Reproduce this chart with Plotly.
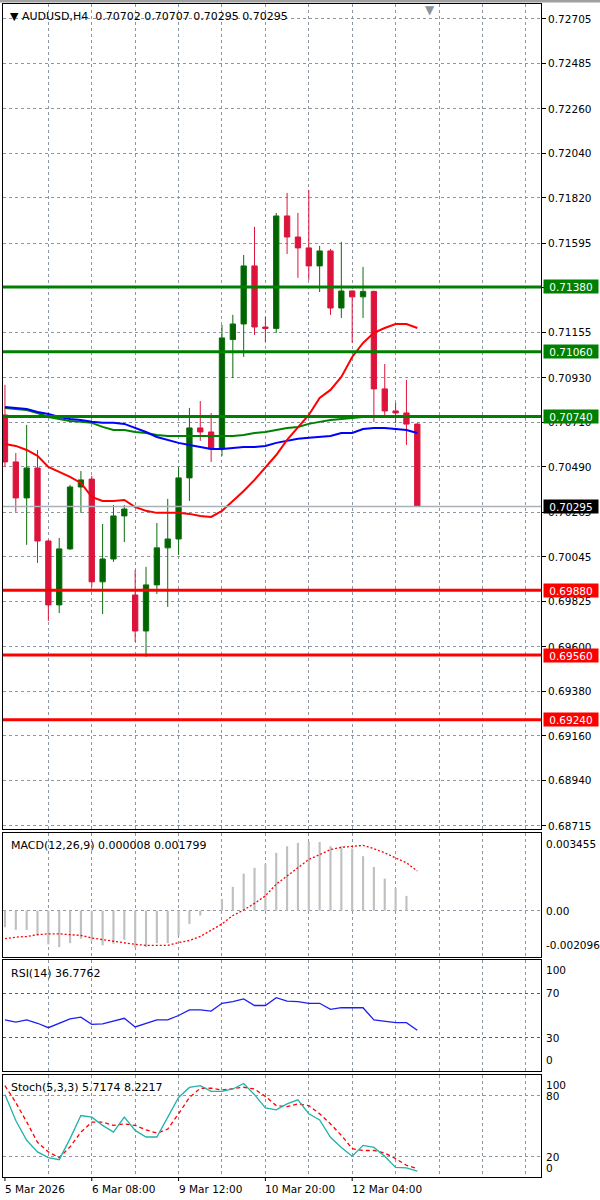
import plotly.graph_objects as go

# ---------------- data ----------------
symbol = "AUDUSD,H4"
bars = list(range(39))
x_labels = ["5 Mar 2026", "6 Mar 08:00", "9 Mar 12:00", "10 Mar 20:00", "12 Mar 04:00"]
x_label_bars = [0, 8, 16, 24, 32]

opens = [0.70747, 0.70515, 0.70337, 0.70485, 0.70124, 0.69808, 0.70085, 0.70391, 0.70430, 0.69922,
         0.70035, 0.70248, 0.69857, 0.69679, 0.69907, 0.70090, 0.70134, 0.70436, 0.70683, 0.70663,
         0.70579, 0.71120, 0.71197, 0.71484, 0.71182, 0.71175, 0.71731, 0.71627, 0.71573, 0.71484,
         0.71558, 0.71276, 0.71360, 0.71331, 0.71358, 0.70876, 0.70767, 0.70757, 0.70702]
highs = [0.70896, 0.70559, 0.70698, 0.70574, 0.70130, 0.70139, 0.70401, 0.70470, 0.70446, 0.70208,
         0.70302, 0.70302, 0.69981, 0.69996, 0.70213, 0.70332, 0.70490, 0.70782, 0.70816, 0.70757,
         0.71192, 0.71242, 0.71538, 0.71677, 0.71232, 0.71746, 0.71845, 0.71746, 0.71860, 0.71583,
         0.71568, 0.71603, 0.71362, 0.71479, 0.71362, 0.70999, 0.70807, 0.70920, 0.70707]
lows = [0.70490, 0.70268, 0.70105, 0.70016, 0.69729, 0.69768, 0.70080, 0.70263, 0.69897, 0.69763,
        0.70021, 0.70119, 0.69625, 0.69551, 0.69862, 0.69798, 0.70055, 0.70322, 0.70619, 0.70515,
        0.70545, 0.70930, 0.71034, 0.71143, 0.71108, 0.71153, 0.71543, 0.71425, 0.71415, 0.71355,
        0.71242, 0.71227, 0.71103, 0.71227, 0.70713, 0.70747, 0.70707, 0.70599, 0.70295]
closes = [0.70515, 0.70337, 0.70485, 0.70124, 0.69808, 0.70085, 0.70391, 0.70426, 0.69922, 0.70035,
          0.70248, 0.70282, 0.69679, 0.69907, 0.70090, 0.70134, 0.70436, 0.70683, 0.70663, 0.70579,
          0.71128, 0.71197, 0.71484, 0.71182, 0.71175, 0.71731, 0.71627, 0.71573, 0.71484, 0.71558,
          0.71276, 0.71360, 0.71331, 0.71358, 0.70876, 0.70767, 0.70757, 0.70702, 0.70295]

ma_red = [0.70604, 0.70594, 0.70574, 0.70545, 0.70490, 0.70465, 0.70441, 0.70411, 0.70342, 0.70322,
          0.70322, 0.70327, 0.70292, 0.70273, 0.70263, 0.70263, 0.70263, 0.70258, 0.70248, 0.70243,
          0.70273, 0.70322, 0.70371, 0.70426, 0.70485, 0.70549, 0.70624, 0.70688, 0.70747, 0.70831,
          0.70871, 0.70935, 0.71034, 0.71103, 0.71153, 0.71177, 0.71197, 0.71197, 0.71177]
ma_blue = [0.70787, 0.70782, 0.70777, 0.70762, 0.70752, 0.70737, 0.70727, 0.70722, 0.70713, 0.70708,
           0.70708, 0.70703, 0.70683, 0.70663, 0.70638, 0.70624, 0.70609, 0.70599, 0.70589, 0.70579,
           0.70579, 0.70584, 0.70589, 0.70589, 0.70594, 0.70609, 0.70619, 0.70629, 0.70634, 0.70638,
           0.70643, 0.70658, 0.70658, 0.70678, 0.70683, 0.70683, 0.70678, 0.70673, 0.70658]
ma_green = [0.70782, 0.70777, 0.70772, 0.70757, 0.70737, 0.70727, 0.70717, 0.70713, 0.70708, 0.70688,
            0.70673, 0.70673, 0.70663, 0.70658, 0.70648, 0.70643, 0.70643, 0.70643, 0.70643, 0.70643,
            0.70643, 0.70643, 0.70648, 0.70658, 0.70663, 0.70673, 0.70683, 0.70688, 0.70703, 0.70713,
            0.70722, 0.70727, 0.70732, 0.70737, 0.70737, 0.70737, 0.70742, 0.70742, 0.70742]

resistance_levels = [0.71380, 0.71060, 0.70740]
support_levels = [0.69880, 0.69560, 0.69240]
last_price = 0.70295

price_tick_labels = ["0.72705", "0.72485", "0.72260", "0.72040", "0.71820", "0.71595", "0.71375",
                     "0.71155", "0.70930", "0.70710", "0.70490", "0.70265", "0.70045", "0.69825",
                     "0.69600", "0.69380", "0.69160", "0.68940", "0.68715"]

macd_hist = [-0.00075, -0.00087, -0.00087, -0.00112, -0.00153, -0.00165, -0.00147, -0.00127, -0.00135, -0.00157,
             -0.00150, -0.00132, -0.00167, -0.00165, -0.00147, -0.00147, -0.00112, -0.00060, -0.00022, 0.00002,
             0.00053, 0.00108, 0.00168, 0.00194, 0.00212, 0.00262, 0.00292, 0.00307, 0.00314, 0.00311,
             0.00292, 0.00292, 0.00282, 0.00247, 0.00198, 0.00145, 0.00102, 0.00067, 0.000008]
macd_signal = [-0.00127, -0.00120, -0.00117, -0.00109, -0.00105, -0.00105, -0.00109, -0.00112, -0.00124, -0.00132,
               -0.00139, -0.00145, -0.00153, -0.00157, -0.00157, -0.00157, -0.00145, -0.00135, -0.00117, -0.00090,
               -0.00060, -0.00022, 0.00003, 0.00033, 0.00067, 0.00120, 0.00157, 0.00194, 0.00232, 0.00254,
               0.00277, 0.00287, 0.00292, 0.00296, 0.00281, 0.00262, 0.00239, 0.00217, 0.001799]
macd_labels = ["0.003455", "0.00", "-0.002096"]

rsi = [46, 44, 46, 43, 39, 43, 47, 48.5, 42, 42.5, 45, 47.5, 39.7, 43, 46, 46, 50, 55, 55, 54,
       61, 62.5, 65, 59, 59, 66, 63, 62.5, 61, 61, 55.5, 57, 57, 57, 46, 44.5, 43.5, 43.5, 36.7762]
rsi_levels = [70, 30]

stoch_k = [81, 55.4, 36, 24.6, 19, 17, 37.6, 60.3, 58.7, 50.6, 44, 58.7, 45.7, 39.2, 39.2, 58.7, 78, 87.8, 89.5, 84,
           84, 86.3, 91.7, 80.7, 67.8, 65.8, 71.7, 75.6, 62, 56, 39, 29, 20.4, 31, 29, 20.4, 9.4, 9, 5.7174]
stoch_d = [89.5, 73, 54, 34, 24.6, 19, 29.5, 44, 53.8, 53.8, 50.6, 52, 50.6, 46.3, 43, 47, 62, 78, 87, 87,
           85.3, 87, 88, 86.3, 79, 70, 69, 71.7, 70, 62, 52, 40.8, 27.8, 26, 26, 23.5, 18, 11.5, 8.2217]
stoch_levels = [80, 20]

# ---------------- layout helpers ----------------
FONT = "DejaVu Sans"
FS = 10.5
GRID = "#8C97A3"
GDASH = "3px,3px"
H_PLOT = 1173.0  # plot-area height in px (1200 - top 4 - bottom 23)


def dom(top_px, bot_px):
    return [(1177 - bot_px) / H_PLOT, (1177 - top_px) / H_PLOT]


d_main = dom(4, 829)
d_macd = dom(833, 957)
d_rsi = dom(960, 1071)
d_sto = dom(1075, 1177)
x_range = [-0.18, 49.4]
grid_bars = list(range(4, 49, 4))

fig = go.Figure()

# candles
fig.add_trace(go.Candlestick(
    x=bars, open=opens, high=highs, low=lows, close=closes,
    increasing=dict(line=dict(color="#0A6E0A", width=1), fillcolor="#006400"),
    decreasing=dict(line=dict(color="#DC143C", width=1), fillcolor="#DC143C"),
    whiskerwidth=0, xaxis="x", yaxis="y", hoverinfo="skip"))

for vals, col in [(ma_green, "#008000"), (ma_blue, "#0000FF"), (ma_red, "#FF0000")]:
    fig.add_trace(go.Scatter(x=bars, y=vals, mode="lines", line=dict(color=col, width=2),
                             xaxis="x", yaxis="y", hoverinfo="skip"))

# MACD
fig.add_trace(go.Bar(x=bars, y=macd_hist, width=0.2, marker=dict(color="#C0C0C0", line=dict(width=0)),
                     xaxis="x2", yaxis="y2", hoverinfo="skip"))
fig.add_trace(go.Scatter(x=bars, y=macd_signal, mode="lines",
                         line=dict(color="#FF0000", width=1.3, dash="2px,2px"),
                         xaxis="x2", yaxis="y2", hoverinfo="skip"))
# RSI
fig.add_trace(go.Scatter(x=bars, y=rsi, mode="lines", line=dict(color="#1E1EF0", width=1.3),
                         xaxis="x3", yaxis="y3", hoverinfo="skip"))
# Stochastic
fig.add_trace(go.Scatter(x=bars, y=stoch_d, mode="lines",
                         line=dict(color="#FF0000", width=1.3, dash="4px,3px"),
                         xaxis="x4", yaxis="y4", hoverinfo="skip"))
fig.add_trace(go.Scatter(x=bars, y=stoch_k, mode="lines", line=dict(color="#20B2AA", width=1.3),
                         xaxis="x4", yaxis="y4", hoverinfo="skip"))

xbase = dict(range=x_range, tickmode="array", tickvals=grid_bars, showticklabels=False, ticks="",
             showgrid=True, gridcolor=GRID, griddash=GDASH, gridwidth=1, zeroline=False,
             showline=True, mirror=True, linecolor="black", linewidth=1, fixedrange=True)

ybase = dict(showline=True, mirror=True, linecolor="black", linewidth=1, zeroline=False,
             fixedrange=True, side="right")

layout = dict(
    width=600, height=1200,
    margin=dict(l=3, r=59, t=4, b=23, pad=0),
    paper_bgcolor="white", plot_bgcolor="white",
    showlegend=False, hovermode=False,
    font=dict(family=FONT, size=FS, color="black"),
    xaxis=dict(xbase, anchor="y", rangeslider=dict(visible=False)),
    xaxis2=dict(xbase, anchor="y2", matches="x"),
    xaxis3=dict(xbase, anchor="y3", matches="x"),
    xaxis4=dict(xbase, anchor="y4", matches="x"),
    yaxis=dict(ybase, domain=d_main, anchor="x",
               range=[0.68700, 0.72779],
               tickmode="array", tickvals=[float(s) for s in price_tick_labels], ticktext=price_tick_labels,
               ticks="outside", ticklen=4, tickcolor="black", tickwidth=1,
               tickfont=dict(family=FONT, size=FS, color="black"),
               showgrid=True, gridcolor=GRID, griddash=GDASH, gridwidth=1),
    yaxis2=dict(ybase, domain=d_macd, anchor="x2", range=[-0.0021, 0.00352],
                tickmode="array", tickvals=[0.0], showticklabels=False, ticks="",
                showgrid=True, gridcolor=GRID, griddash=GDASH, gridwidth=1),
    yaxis3=dict(ybase, domain=d_rsi, anchor="x3", range=[0, 100],
                tickmode="array", tickvals=rsi_levels, showticklabels=False, ticks="",
                showgrid=True, gridcolor="#1E8C1E", griddash="3px,3px", gridwidth=1),
    yaxis4=dict(ybase, domain=d_sto, anchor="x4", range=[0, 100],
                tickmode="array", tickvals=stoch_levels, showticklabels=False, ticks="",
                showgrid=True, gridcolor=GRID, griddash=GDASH, gridwidth=1),
)
fig.update_layout(layout)

shapes = []
annotations = []

# current price line and level lines
shapes.append(dict(type="line", xref="paper", x0=0, x1=1, yref="y", y0=last_price, y1=last_price,
                   line=dict(color="#A8B0B8", width=1.5), layer="above"))
for lv in resistance_levels:
    shapes.append(dict(type="line", xref="paper", x0=0, x1=1, yref="y", y0=lv, y1=lv,
                       line=dict(color="#008000", width=3), layer="above"))
for lv in support_levels:
    shapes.append(dict(type="line", xref="paper", x0=0, x1=1, yref="y", y0=lv, y1=lv,
                       line=dict(color="#FF0000", width=3), layer="above"))


def price_box(val, bg):
    return dict(xref="paper", x=1, xanchor="left", xshift=2, yref="y", y=val, yanchor="middle",
                text=f"{val:.5f}", showarrow=False, bgcolor=bg, borderpad=1, width=52, height=11,
                font=dict(family=FONT, size=FS, color="white"), align="center")


for lv in resistance_levels:
    annotations.append(price_box(lv, "#008000"))
for lv in support_levels:
    annotations.append(price_box(lv, "#FF0000"))
annotations.append(price_box(last_price, "#000000"))

# headers
annotations.append(dict(xref="paper", x=0, xshift=5, xanchor="left", yref="paper", y=d_main[1], yshift=-4,
                        yanchor="top", showarrow=False, font=dict(size=11),
                        text="\u25BC\u00a0" + symbol + "\u00a0\u00a0" + " ".join(
                            f"{v:.5f}" for v in [opens[-1], highs[-1], lows[-1], closes[-1]])))
annotations.append(dict(xref="paper", x=0, xshift=6, xanchor="left", yref="paper", y=d_macd[1], yshift=-4,
                        yanchor="top", showarrow=False, font=dict(size=11),
                        text=f"MACD(12,26,9) {macd_hist[-1]:.6f} {macd_signal[-1]:.6f}"))
annotations.append(dict(xref="paper", x=0, xshift=6, xanchor="left", yref="paper", y=d_rsi[1], yshift=-5,
                        yanchor="top", showarrow=False, font=dict(size=11), text=f"RSI(14) {rsi[-1]:.4f}"))
annotations.append(dict(xref="paper", x=0, xshift=6, xanchor="left", yref="paper", y=d_sto[1], yshift=-4,
                        yanchor="top", showarrow=False, font=dict(size=11),
                        text=f"Stoch(5,3,3) {stoch_k[-1]:.4f} {stoch_d[-1]:.4f}"))

# chart-shift marker and window strip
annotations.append(dict(xref="paper", x=(430 - 3) / 538, xanchor="center", yref="paper", y=1, yanchor="top",
                        yshift=3, showarrow=False, text="\u25BC", font=dict(color="#8A929A", size=12)))
shapes.append(dict(type="rect", xref="paper", x0=-3 / 538, x1=1 + 59 / 538, yref="paper",
                   y0=1 + 1.5 / H_PLOT, y1=1 + 4 / H_PLOT, fillcolor="#A0A0A0", line=dict(width=0)))

# sub-panel right labels
macd_vals = [float(s) for s in macd_labels]
annotations.append(dict(xref="paper", x=1, xshift=3, xanchor="left", yref="y2", y=macd_vals[0],
                        yanchor="top", yshift=-2, showarrow=False, text=macd_labels[0]))
annotations.append(dict(xref="paper", x=1, xshift=3, xanchor="left", yref="y2", y=macd_vals[1],
                        yanchor="middle", showarrow=False, text=macd_labels[1]))
annotations.append(dict(xref="paper", x=1, xshift=3, xanchor="left", yref="y2", y=macd_vals[2],
                        yanchor="bottom", yshift=4, showarrow=False, text=macd_labels[2]))

for val, anc, sh in [(100, "top", -2), (70, "middle", 0), (30, "middle", 0), (0, "bottom", 3)]:
    annotations.append(dict(xref="paper", x=1, xshift=3, xanchor="left", yref="y3", y=val,
                            yanchor=anc, yshift=sh, showarrow=False, text=str(val)))
for val, anc, sh in [(100, "top", -2), (80, "middle", -1), (20, "middle", 0), (0, "bottom", 1)]:
    annotations.append(dict(xref="paper", x=1, xshift=3, xanchor="left", yref="y4", y=val,
                            yanchor=anc, yshift=sh, showarrow=False, text=str(val)))

# time labels
for b, lab in zip(x_label_bars, x_labels):
    annotations.append(dict(xref="x4", x=b, xanchor="left", xshift=-2, yref="paper", y=0, yanchor="top",
                            yshift=-4, showarrow=False, text=lab))
    shapes.append(dict(type="line", xref="x4", x0=b, x1=b, yref="paper", y0=0, y1=-4 / H_PLOT,
                       line=dict(color="black", width=1)))

fig.update_layout(shapes=shapes, annotations=annotations)
fig.write_html(
    "out.html",
    config={"displayModeBar": False, "staticPlot": True},
    post_script="document.body.style.margin='0';document.body.style.overflow='hidden';"
                "document.documentElement.style.overflow='hidden';")
